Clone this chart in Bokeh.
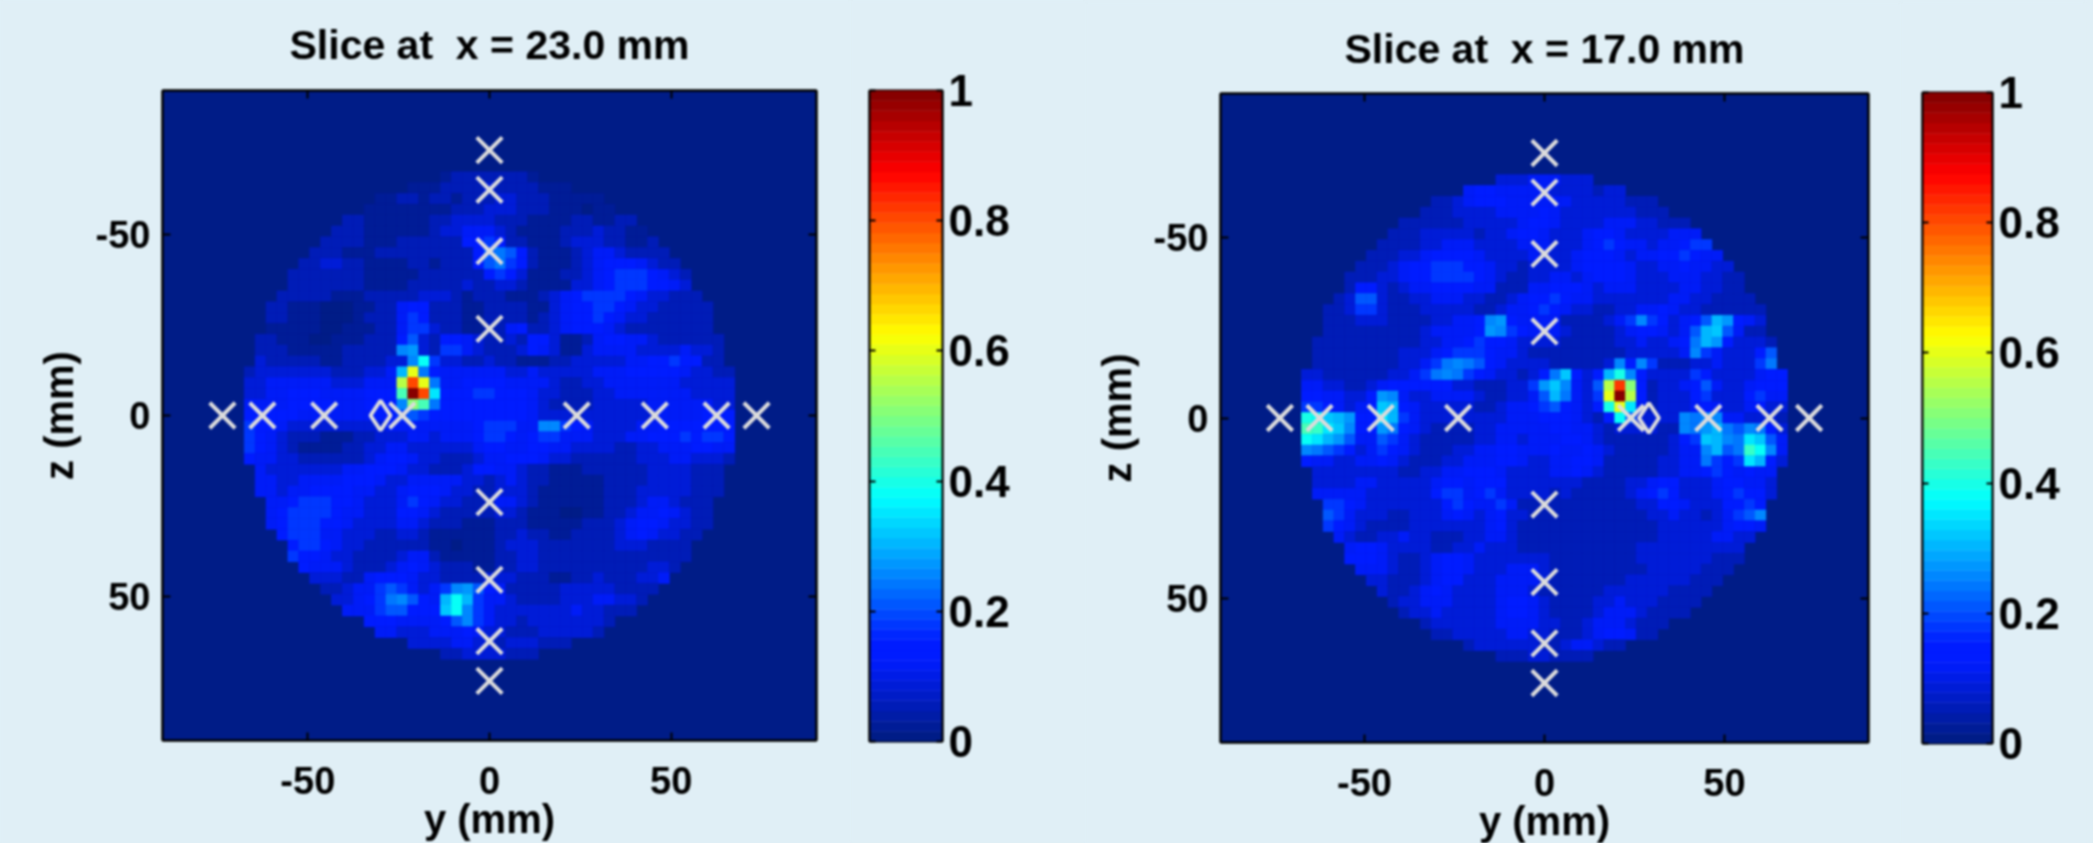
from bokeh.plotting import figure
from bokeh.layouts import row
from bokeh.models import (ColumnDataSource, LinearColorMapper, LinearAxis, FixedTicker,
                          Range1d, NumeralTickFormatter, GlobalInlineStyleSheet, InlineStyleSheet,
                          CustomLabelingPolicy)
from bokeh.transform import transform
from bokeh.embed import file_html
from bokeh.resources import INLINE

BG = "#e0eff6"
FONT = "Liberation Sans"
WEIGHT = "bold"
TICKS = [-50, 0, 50]
TICK_TEXT = {-50: "-50", 0: "0", 50: "50"}
CB_TICKS = [0, 0.2, 0.4, 0.6, 0.8, 1]
titles = ["Slice at \u00a0x = 23.0 mm", "Slice at \u00a0x = 17.0 mm"]
marks_y = [-73.5, -62.5, -45.5, -24, 24, 45.5, 62.5, 73.5]
marks_z = [-73.5, -62.5, -45.5, -24, 24, 45.5, 62.5, 73.5]
source_y = [-30, 29]
source_z = [0, 0]

# one character per 3 mm cell; rows run z = -66 ... 66. Characters stand for the values read:
LOW_CHARS = "0123456789"
LOW_VALUES = [0, 0.015, 0.03, 0.055, 0.085, 0.115, 0.15, 0.18, 0.21, 0.24]
HIGH_CHARS = "abcdefghijklmnopqrstuvwxyzABCDE"
HIGH_VALUES = [0.25, 0.275, 0.3, 0.325, 0.35, 0.375, 0.4, 0.425, 0.45, 0.475, 0.5, 0.525, 0.55,
               0.575, 0.6, 0.625, 0.65, 0.675, 0.7, 0.725, 0.75, 0.775, 0.8, 0.825, 0.85, 0.875,
               0.9, 0.925, 0.95, 0.975, 1.0]
left_rows = [
 "23333 3332",
 "22233 33433 33222",
 "22332 33233 34433 32222 2",
 "22222 22233 34443 33222 122",
 "33222 22233 44443 33222 23322 33",
 "33322 22223 44555 43222 23334 3322",
 "33332 22333 33366 76332 22344 43322 3",
 "33322 23333 33333 68986 32223 45543 333",
 "33443 32222 33233 36897 63222 34566 65433",
 "33333 33222 22333 33367 64222 33456 77765 43",
 "33333 33222 23333 34334 43222 24456 77766 54",
 "3333 32223 33334 44323 33222 34567 77765 44333",
 "33222 11122 33566 33322 33332 24566 77654 43333 3",
 "33222 11123 33576 33322 33332 34566 76544 33333 3",
 "22222 11222 33577 43322 33563 34566 65433 33333 3",
 "33222 11222 33368 43665 43343 66422 35665 54333 333",
 "33322 22233 333ab 43775 43334 65422 45555 44445 443",
 "43333 32233 3344a f7443 34332 22334 44445 56676 633",
 "34444 44433 3445c o9655 55554 45444 44555 66666 54433",
 "44555 55544 4555m wo955 66665 55543 34455 55555 44444",
 "44556 66555 5666i Ewe66 67766 65443 33445 55555 54444",
 "55556 66655 5666a ki966 66666 65433 33444 44555 55544",
 "66666 55555 55667 87666 66666 65444 34444 44455 55666",
 "76654 44444 44455 55555 56777 55aa7 65444 45566 66666",
 "76543 33222 33444 55455 56776 56775 55444 55666 76776",
 "76543 22223 34455 44444 45665 56655 44443 34455 56655",
 "65544 33333 34566 54433 34556 66544 33333 34445 54443",
 "544 44444 55666 54433 34665 54332 22333 33344 44333",
 "55 44555 56665 44555 55443 45433 22222 33334 44433 3",
 "55 45566 66554 45666 54433 44432 22222 33344 44433 3",
 "5 56777 66544 45765 44333 55432 22222 33345 54333",
 "5 67777 65544 46654 33333 44322 21122 33455 65433",
 "5 67776 65444 45543 33222 33322 22233 34566 54433",
 "67775 54443 34432 22222 33433 22333 34565 4433",
 "6776 54433 33332 21222 34443 33333 34443 333",
 "7665 44333 34553 22222 33443 33333 33333 333",
 "65554 33345 65433 32233 44333 33333 33443",
 "444 33566 65443 33344 43332 23343 33445",
 "33455 78754 57ab8 65333 33444 44333 3",
 "44567 9a865 cfc75 54333 34445 5443",
 "55578 8666d fa754 44444 45443 33",
 "66655 5568a 75443 44444 443",
 "55444 55565 44333 44444 3",
 "4444 55443 44433 3",
 "33444 4333",
]
right_rows = [
 "44455 5444",
 "56655 55544 44344",
 "33456 66555 55544 44433 3",
 "33344 44555 56544 44444 333",
 "33333 34444 45665 44445 55443 33",
 "3334 44443 44566 54445 66544 44555",
 "33334 45554 44455 54445 67655 45567 7",
 "33344 56666 54444 54445 66654 55667 655",
 "33345 66777 66544 34444 56666 54455 65544",
 "33344 56677 77654 33445 54566 65444 55544 33",
 "36643 45566 66553 33556 66545 55444 45544 33",
 "34884 33445 55443 34566 76554 44444 45544 3333",
 "33477 43334 44443 34556 76544 33445 56544 33333 3",
 "33344 43333 44556 ab655 55333 3457a 76456 8cb65 4",
 "33333 33334 55556 ba765 55433 33456 65458 cd853 3",
 "33333 33333 44556 76654 44433 33344 54456 9cb64 443",
 "33333 33344 45677 76554 33333 33334 44445 a7544 468",
 "33333 33344 579a9 86544 44333 334a6 a7333 44544 479",
 "44333 33344 579a9 76544 3469d 646cg a6444 47644 44566",
 "55443 34566 66664 43334 47bda 548mx k6344 56854 45666",
 "66554 46ba5 44555 54334 458c9 547oE m6344 46744 46755",
 "77654 56dc6 54444 43345 56786 546go e5344 45654 45644",
 "gfdcb 66ec7 54444 44445 55666 5436f 84444 a9aa5 54443",
 "iheda 66b96 54333 34455 55566 55434 44433 a9bc9 8a964",
 "fecb8 55875 43333 34455 45556 65433 33334 67dca 9ed85",
 "a9876 45765 43334 45566 55565 56543 33334 55ac8 9hfa5",
 "65544 55654 33344 55566 54455 66533 33344 55976 7ec64",
 "44444 44433 44556 66544 44556 54333 33445 56765 655",
 "44445 54444 45665 66644 44444 33334 45664 44566 554",
 "55555 44444 46775 67544 44343 33334 56764 44567 664",
 "77654 44444 46765 57533 33333 33334 46654 44667 6",
 "87544 43344 45654 56443 33333 33333 44544 34578 a",
 "76543 33344 44444 56433 33333 33333 34444 44566 5",
 "54334 45443 33445 54333 33333 33333 44444 5544",
 "56654 44433 44544 43333 33333 33444 44444 44",
 "66654 33456 65444 44443 33333 33444 44443 33",
 "55543 34566 54445 55433 33333 33444 44333",
 "44333 45664 44555 54333 33334 44444 333",
 "43345 65444 45554 33333 34444 44333 3",
 "3445 55444 45665 43333 44544 43333",
 "34454 44445 66543 33345 55433 33",
 "34444 44555 54433 45554 333",
 "33444 44554 43334 56653 3",
 "34444 44334 55433",
 "33344 3333",
]

CHAR_VALUE = dict(zip(LOW_CHARS + HIGH_CHARS, LOW_VALUES + HIGH_VALUES))

def jet(n=64):
    out = []
    for i in range(n):
        v = (i + 0.5) / n
        r = min(max(min(4 * v - 1.5, -4 * v + 4.5), 0), 1)
        g = min(max(min(4 * v - 0.5, -4 * v + 3.5), 0), 1)
        b = min(max(min(4 * v + 0.5, -4 * v + 2.5), 0), 1)
        if v < 0.3:
            g = max(g, 0.11)
        out.append("#%02x%02x%02x" % (int(r * 255), int(g * 255), int(b * 255)))
    return out

PALETTE = jet()
mapper = LinearColorMapper(palette=PALETTE, low=0, high=1)
BLUR = InlineStyleSheet(css=":host{filter:blur(1px)}")
NO_LABELS = "for (const i of [...indices]) { indices.unset(i) }; return indices"

def hide_labels(ax):
    ax.major_label_policy = CustomLabelingPolicy(code=NO_LABELS)
    ax.major_label_text_font_size = "0px"
    ax.major_label_standoff = 0

def cells(rows):
    xs, zs, vals = [], [], []
    mid = len(rows) // 2
    for k, line in enumerate(rows):
        line = line.replace(" ", "")
        h = len(line) // 2
        for i, c in enumerate(line):
            xs.append(3 * (i - h))
            zs.append(3 * (k - mid))
            vals.append(CHAR_VALUE[c])
    return ColumnDataSource(dict(x=xs, z=zs, v=vals))

def style_box(ax):
    ax.ticker = FixedTicker(ticks=TICKS)
    ax.major_tick_in = 8
    ax.major_tick_out = 0
    ax.minor_tick_line_color = None
    ax.major_tick_line_width = 2
    ax.major_tick_line_color = "black"
    ax.axis_line_color = "black"
    ax.axis_line_width = 2

def panel(rows, title, diamond_y, diamond_z, left, right, top, fw, fh, bottom, title_gap, shift):
    p = figure(frame_width=fw, frame_height=fh, min_border_left=left, min_border_right=right,
               min_border_top=top, min_border_bottom=bottom, margin=(shift, 0, 0, 0),
               x_range=Range1d(-90, 90), y_range=Range1d(90, -90),
               toolbar_location=None, output_backend="svg",
               background_fill_color=PALETTE[0], border_fill_color=BG,
               x_axis_label="y (mm)", y_axis_label="z (mm)")
    p.stylesheets = [BLUR]
    p.grid.visible = False
    p.outline_line_color = "black"
    p.outline_line_width = 2
    src = cells(rows)
    c = transform("v", mapper)
    p.rect("x", "z", width=3, height=3, source=src, fill_color=c, line_color=c, line_width=0.6)
    for ax in (p.xaxis[0], p.yaxis[0]):
        style_box(ax)
        ax.major_label_overrides = TICK_TEXT
        ax.major_label_text_font = FONT
        ax.major_label_text_font_size = "38px"
        ax.major_label_text_font_style = WEIGHT
        ax.major_label_text_color = "black"
        ax.axis_label_text_font = FONT
        ax.axis_label_text_font_size = "40px"
        ax.axis_label_text_font_style = WEIGHT
        ax.axis_label_text_color = "black"
    p.xaxis[0].major_label_standoff = 26
    p.xaxis[0].axis_label_standoff = 0
    p.yaxis[0].major_label_standoff = 12
    p.yaxis[0].axis_label_standoff = 12
    p.yaxis[0].major_label_orientation = "horizontal"
    # the title sits on the upper axis so that it can hold its exact distance from the frame
    top_ax = LinearAxis(axis_label=title, axis_label_text_font=FONT,
                        axis_label_text_font_size="41px", axis_label_text_font_style=WEIGHT,
                        axis_label_text_color="black", axis_label_standoff=title_gap)
    right_ax = LinearAxis(axis_label=None)
    for ax, side in ((top_ax, "above"), (right_ax, "right")):
        style_box(ax)
        hide_labels(ax)
        p.add_layout(ax, side)
    grey = "#dcdcdc"
    p.scatter(marks_y, [0] * len(marks_y), marker="x", size=36, line_color=grey, line_width=4)
    p.scatter([0] * len(marks_z), marks_z, marker="x", size=36, line_color=grey, line_width=4)
    p.scatter([diamond_y], [diamond_z], marker="diamond", size=30, fill_color=None,
              line_color=grey, line_width=4)
    return p

def bar(left, fw, right, top, fh, bottom, shift):
    n = len(PALETTE)
    src = ColumnDataSource(dict(b=[i / n for i in range(n)], t=[(i + 1) / n for i in range(n)],
                                col=PALETTE))
    p = figure(frame_width=fw, frame_height=fh, min_border_left=left, min_border_right=right,
               min_border_top=top, min_border_bottom=bottom, margin=(shift, 0, 0, 0),
               x_range=Range1d(0, 1), y_range=Range1d(0, 1),
               toolbar_location=None, output_backend="svg", border_fill_color=BG,
               x_axis_location=None, y_axis_location=None)
    p.stylesheets = [BLUR]
    p.grid.visible = False
    p.outline_line_color = "black"
    p.outline_line_width = 2
    p.quad(left=0, right=1, bottom="b", top="t", source=src, fill_color="col", line_color="col",
           line_width=0.5)
    for side, labelled in (("left", False), ("right", True)):
        ax = LinearAxis(ticker=FixedTicker(ticks=CB_TICKS), major_tick_in=6, major_tick_out=0,
                        minor_tick_line_color=None, major_tick_line_width=2, axis_line_width=2,
                        major_label_text_font=FONT, major_label_text_color="black",
                        major_label_text_font_size="44px", major_label_text_font_style=WEIGHT,
                        major_label_standoff=6,
                        formatter=NumeralTickFormatter(format="0.[0]"))
        if not labelled:
            hide_labels(ax)
        ax.major_label_orientation = "horizontal"
        p.add_layout(ax, side)
    return p

a = panel(left_rows, titles[0], source_y[0], source_z[0], 162, 34, 90, 654, 650, 100, 23, 0)
b = bar(19, 73, 143, 90, 651, 100, 0)
c2 = panel(right_rows, titles[1], source_y[1], source_z[1], 135, 32, 90, 648, 649, 100, 22, 3)
d = bar(22, 70, 93, 90, 651, 100, 2)

page = row(a, b, c2, d, spacing=0)
page.stylesheets = [GlobalInlineStyleSheet(css="html,body{background:%s;overflow:hidden}" % BG)]
open("out.html", "w").write(file_html(page, INLINE))
